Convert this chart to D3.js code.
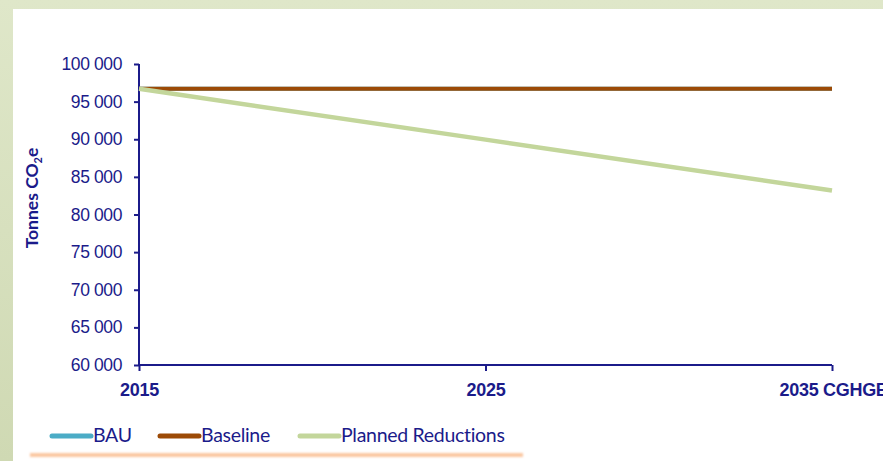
<!DOCTYPE html>
<html>
<head>
<meta charset="utf-8">
<script src="https://cdn.jsdelivr.net/npm/d3@7/dist/d3.min.js"></script>
<style>
  html, body { margin: 0; padding: 0; background: #ffffff; }
  svg { display: block; font-family: Lato, "Open Sans", sans-serif; }
</style>
</head>
<body>
<svg id="chart" width="883" height="461"></svg>
<script>
// Emission scenarios, tonnes CO2e
const categories = ["2015", "2025", "2035 CGHGER"];
const bau = [96700, 96700, 96700];
const baseline = [96700, 96700, 96700];
const plannedReductions = [96700, 89950, 83200];
const yTicks = [60000, 65000, 70000, 75000, 80000, 85000, 90000, 95000, 100000];
const seriesNames = ["BAU", "Baseline", "Planned Reductions"];
const seriesColors = ["#4bacc6", "#9c4a06", "#c3d69b"];

const navy = "#1b1b8a";
const svg = d3.select("#chart");

// Frame: pale green border strip on the top and left, white panel inside
const defs = svg.append("defs");
const grad = defs.append("linearGradient").attr("id", "frameGrad")
  .attr("x1", 0).attr("y1", 0).attr("x2", 0).attr("y2", 1);
grad.append("stop").attr("offset", 0).attr("stop-color", "#dfe7c9");
grad.append("stop").attr("offset", 1).attr("stop-color", "#cfd9b3");
svg.append("rect").attr("width", 883).attr("height", 461).attr("fill", "url(#frameGrad)");
svg.append("rect").attr("x", 13).attr("y", 9).attr("width", 870).attr("height", 452).attr("fill", "#ffffff");

const blur = defs.append("filter").attr("id", "soft").attr("x", "-5%").attr("y", "-200%")
  .attr("width", "110%").attr("height", "500%");
blur.append("feGaussianBlur").attr("stdDeviation", 1.2);

const x = d3.scalePoint().domain(categories).range([139, 832]);
const y = d3.scaleLinear().domain([60000, 100000]).range([365, 64]);

// Y axis
const yAxis = svg.append("g").attr("transform", "translate(139,0)")
  .call(d3.axisLeft(y).tickValues(yTicks).tickSize(5).tickPadding(12)
    .tickFormat(d => d3.format(",")(d).replace(",", " ")));
yAxis.select(".domain").attr("stroke", navy).attr("stroke-width", 2).attr("d", "M0,64V365");
yAxis.selectAll(".tick line").attr("stroke", navy).attr("stroke-width", 2);
yAxis.selectAll(".tick text").attr("fill", navy).attr("font-size", 17.5)
  .attr("letter-spacing", -0.4);

// X axis
const xAxis = svg.append("g").attr("transform", "translate(0,365)")
  .call(d3.axisBottom(x).tickSize(6).tickPadding(12));
xAxis.select(".domain").attr("stroke", navy).attr("stroke-width", 2).attr("d", "M139,0H832");
xAxis.selectAll(".tick line").attr("stroke", navy).attr("stroke-width", 2);
xAxis.selectAll(".tick text").attr("fill", navy).attr("font-size", 18)
  .attr("font-weight", "bold").attr("letter-spacing", -0.3)
  .attr("text-anchor", (d, i) => i === categories.length - 1 ? "start" : "middle")
  .attr("dx", (d, i) => i === categories.length - 1 ? -53 : 0);

// Y axis title with subscript
const title = svg.append("text")
  .attr("transform", "translate(38,198) rotate(-90)")
  .attr("text-anchor", "middle").attr("fill", navy)
  .attr("font-size", 17.5).attr("font-weight", "bold");
title.append("tspan").text("Tonnes CO");
title.append("tspan").attr("font-size", 11).attr("dy", 4).text("2");
title.append("tspan").attr("dy", -4).text("e");

// Series lines
const line = d3.line().x((d, i) => x(categories[i])).y(d => y(d));
const series = [bau, baseline, plannedReductions];
svg.append("g").selectAll("path").data(series).join("path")
  .attr("d", line).attr("fill", "none")
  .attr("stroke", (d, i) => seriesColors[i])
  .attr("stroke-width", (d, i) => i === 2 ? 4.5 : 4)
  .attr("stroke-linejoin", "round");

// Legend
const legendX = [52, 160, 300];
const legend = svg.append("g");
seriesNames.forEach((name, i) => {
  legend.append("line")
    .attr("x1", legendX[i]).attr("x2", legendX[i] + 39)
    .attr("y1", 436).attr("y2", 436)
    .attr("stroke", seriesColors[i]).attr("stroke-width", 5)
    .attr("stroke-linecap", "round");
  legend.append("text")
    .attr("x", legendX[i] + 41).attr("y", 442)
    .attr("fill", navy).attr("font-size", 19.5).attr("letter-spacing", -0.3)
    .text(name);
});

// Soft orange rule under the legend
svg.append("rect").attr("x", 30).attr("y", 453).attr("width", 493).attr("height", 4)
  .attr("fill", "#fbc7a2").attr("filter", "url(#soft)");
</script>
</body>
</html>
